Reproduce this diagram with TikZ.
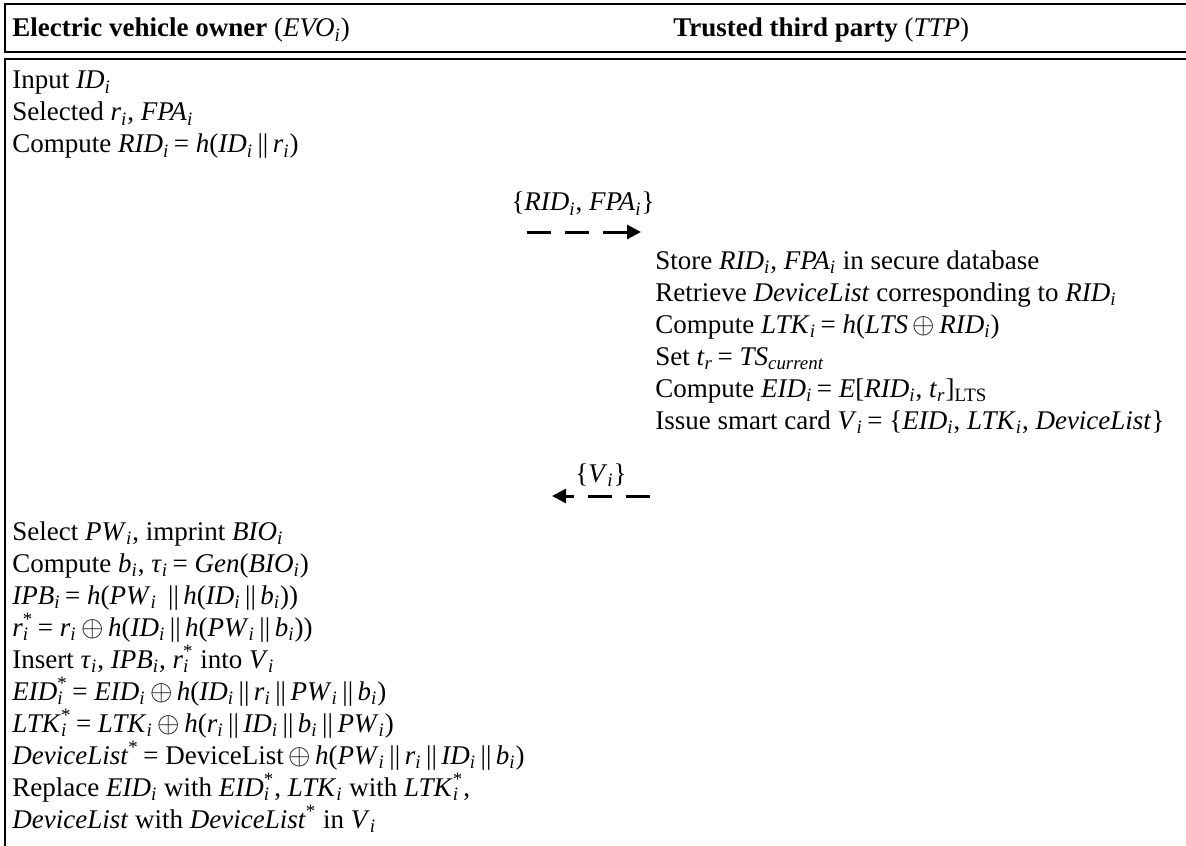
\documentclass[tikz,border=0pt]{standalone}
\usepackage{fontspec}
\setmainfont{Liberation Serif}
\usetikzlibrary{arrows.meta}

\newcommand{\ovar}[2]{\textit{#1}\textsubscript{\textit{#2}}}
\newcommand{\ovarstar}[2]{\textit{#1}\rlap{\textsubscript{\textit{#2}}}\textsuperscript{*}}
\newcommand{\oxor}{\,$\oplus$\,}
\newcommand{\ocat}{\,||\,}

\begin{document}
\begin{tikzpicture}[%
        x=0.5pt, y=-0.5pt,
        txt/.style={anchor=base west, inner sep=0pt, font=\fontsize{13.5}{15.5}\selectfont},
        rule/.style={line width=1.2pt},
        msg/.style={line width=1.5pt, dash pattern=on 12pt off 7pt,
                    -{Triangle[length=7pt,width=7pt]}}
    ]
        \useasboundingbox (0,0) rectangle (1186,845);

        % column headers
        \draw [rule] (1190,4) -- (5,4) -- (5,52) -- (1190,52);
        \node [txt] (hEVO) at (12,37)
            {\textbf{Electric vehicle owner} (\ovar{EVO}{i})};
        \node [txt] (hTTP) at (673,37)
            {\textbf{Trusted third party} (\textit{TTP})};

        % body frame
        \draw [rule] (5,850) -- (5,59) -- (1190,59);

        % EVO: request
        \foreach \n/\txt in {%
            1/{Input \ovar{ID}{i}},
            2/{Selected \ovar{r}{i}, \ovar{FPA}{i}},
            3/{Compute \ovar{RID}{i}\,= \textit{h}(\ovar{ID}{i}\ocat\ovar{r}{i})}}
            \node [txt] (evoA\n) at (12,{89+32*(\n-1)}) {\txt};

        % message to TTP
        \node [txt, anchor=base] (msgRID) at (583,211)
            {\{\ovar{RID}{i}, \ovar{FPA}{i}\}};
        \coordinate (msgRIDs) at (527,232);
        \coordinate (msgRIDe) at (641,232);
        \draw [msg] (msgRIDs) -- (msgRIDe);

        % TTP: registration
        \foreach \n/\txt in {%
            1/{Store \ovar{RID}{i}, \ovar{FPA}{i} in secure database},
            2/{Retrieve \textit{DeviceList} corresponding to \ovar{RID}{i}},
            3/{Compute \ovar{LTK}{i}\,= \textit{h}(\textit{LTS}\oxor\ovar{RID}{i})},
            4/{Set \ovar{t}{r}\,= \ovar{TS}{current}},
            5/{Compute \ovar{EID}{i}\,= \textit{E}[\ovar{RID}{i}, \ovar{t}{r}]\textsubscript{LTS}},
            6/{Issue smart card \ovar{V}{i}\,= \{\ovar{EID}{i}, \ovar{LTK}{i}, \textit{DeviceList}\}}}
            \node [txt] (ttp\n) at (655,{269+32*(\n-1)}) {\txt};

        % smart card back to EVO
        \node [txt, anchor=base] (msgV) at (601,482) {\{\ovar{V}{i}\}};
        \coordinate (msgVs) at (650,496);
        \coordinate (msgVe) at (552,496);
        \draw [msg] (msgVs) -- (msgVe);

        % EVO: personalisation
        \foreach \n/\txt in {%
            1/{Select \ovar{PW}{i}, imprint \ovar{BIO}{i}},
            2/{Compute \ovar{b}{i}, \ovar{τ}{i}\,= \textit{Gen}(\ovar{BIO}{i})},
            3/{\ovar{IPB}{i}\,= \textit{h}(\ovar{PW}{i} \ocat\textit{h}(\ovar{ID}{i}\ocat\ovar{b}{i}))},
            4/{\ovarstar{r}{i}\,= \ovar{r}{i}\oxor\textit{h}(\ovar{ID}{i}\ocat\textit{h}(\ovar{PW}{i}\ocat\ovar{b}{i}))},
            5/{Insert \ovar{τ}{i}, \ovar{IPB}{i}, \ovarstar{r}{i} into \ovar{V}{i}},
            6/{\ovarstar{EID}{i}\,= \ovar{EID}{i}\oxor\textit{h}(\ovar{ID}{i}\ocat\ovar{r}{i}\ocat\ovar{PW}{i}\ocat\ovar{b}{i})},
            7/{\ovarstar{LTK}{i}\,= \ovar{LTK}{i}\oxor\textit{h}(\ovar{r}{i}\ocat\ovar{ID}{i}\ocat\ovar{b}{i}\ocat\ovar{PW}{i})},
            8/{\textit{DeviceList}\textsuperscript{*}\,= DeviceList\oxor\textit{h}(\ovar{PW}{i}\ocat\ovar{r}{i}\ocat\ovar{ID}{i}\ocat\ovar{b}{i})},
            9/{Replace \ovar{EID}{i} with \ovarstar{EID}{i}, \ovar{LTK}{i} with \ovarstar{LTK}{i},},
            10/{\textit{DeviceList} with \textit{DeviceList}\textsuperscript{*} in \ovar{V}{i}}}
            \node [txt] (evoB\n) at (12,{540+32*(\n-1)}) {\txt};
    \end{tikzpicture}
\end{document}
